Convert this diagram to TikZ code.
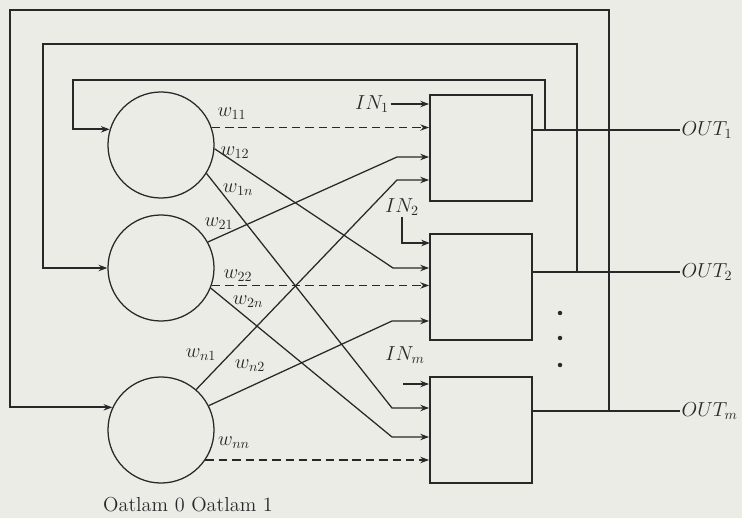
\documentclass[tikz,border=0pt]{standalone}
\usepackage{xcolor}
\usepackage{tikz}
\usetikzlibrary{arrows.meta,positioning,calc}
\definecolor{paper}{RGB}{236,236,231}
\definecolor{ink}{RGB}{40,40,40}

\begin{document}
\begin{tikzpicture}[
  x=0.025cm, y=-0.025cm,
  neuron/.style={draw=ink, circle, line width=0.9pt, minimum size=2.65cm, inner sep=0pt},
  cell/.style={draw=ink, line width=1.3pt, minimum width=2.55cm, minimum height=2.65cm, inner sep=0pt},
  lab/.style={font=\Large, text=ink, inner sep=1pt},
  wgt/.style={draw=ink, line width=0.9pt},
  arr/.style={-{Stealth[length=2.2mm, width=1.6mm]}},
  fb/.style={draw=ink, line width=1.2pt, -{Stealth[length=2.2mm, width=1.6mm]}},
  wdash/.style={wgt, dash pattern=on 6pt off 3.5pt}
]
  \fill[paper] (0,0) rectangle (742,518);
  \useasboundingbox (0,0) rectangle (742,518);

  % Neurons
  \node[neuron] (n1) at (161,145) {};
  \node[neuron] (n2) at (161,268) {};
  \node[neuron] (n3) at (161,430) {};

  % Output cells
  \node[cell] (b1) at (481,148) {};
  \node[cell] (b2) at (481,287) {};
  \node[cell] (b3) at (481,430) {};

  % Inputs
  \node[lab] (in1) at (372,104) {$IN_1$};
  \node[lab] (in2) at (402,207) {$IN_2$};
  \node[lab] (inm) at (405,355) {$IN_m$};
  \coordinate (p2) at (430,243);
  \coordinate (pm) at (403,384);
  \draw[wgt,arr] (in1.east) -- (in1.east -| b1.west);
  \draw[wgt,arr] (in2.south) |- (p2);
  \draw[wgt,arr] (pm) -- (pm -| b3.west);

  % Outputs
  \node[lab, anchor=west] (out1) at (680,130) {$OUT_1$};
  \node[lab, anchor=west] (out2) at (680,272) {$OUT_2$};
  \node[lab, anchor=west] (outm) at (680,411) {$OUT_m$};
  \draw[wgt, line width=1.2pt] (out1.west -| b1.east) -- (out1.west);
  \draw[wgt, line width=1.2pt] (out2.west -| b2.east) -- (out2.west);
  \draw[wgt, line width=1.2pt] (outm.west -| b3.east) -- (outm.west);

  % Feedback loops
  \coordinate (j1) at (545,130);
  \coordinate (j2) at (577,272);
  \coordinate (j3) at (609,411);
  \coordinate (c1) at (73,80);
  \coordinate (c2) at (43,44);
  \coordinate (c3) at (10,10);
  \draw[fb] (j1) |- (c1) |- (n1.163);
  \draw[fb] (j2) |- (c2) |- (n2.west);
  \draw[fb] (j3) |- (c3) |- (n3.155);

  % Bends of the weight lines
  \coordinate (k12) at (393,268);
  \coordinate (k1n) at (392,408);
  \coordinate (k21) at (397,157);
  \coordinate (k2n) at (392,437);
  \coordinate (kn1) at (397,180);
  \coordinate (kn2) at (392,321);

  % Weights
  \draw[wdash,arr] (n1.19) -- (n1.19 -| b1.west);
  \draw[wgt,arr] (n1.-4) -- (k12) -- (k12 -| b2.west);
  \draw[wgt,arr] (n1.-32) -- (k1n) -- (k1n -| b3.west);
  \draw[wgt,arr] (n2.29) -- (k21) -- (k21 -| b1.west);
  \draw[wdash,arr] (n2.-19) -- (n2.-19 -| b2.west);
  \draw[wgt,arr] (n2.-22) -- (k2n) -- (k2n -| b3.west);
  \draw[wgt,arr] (n3.49) -- (kn1) -- (kn1 -| b1.west);
  \draw[wgt,arr] (n3.27) -- (kn2) -- (kn2 -| b2.west);
  \draw[wdash,arr] (n3.-34) -- (n3.-34 -| b3.west);

  \node[lab] (l11) at (232,114) {$w_{11}$};
  \node[lab] (l12) at (235,153) {$w_{12}$};
  \node[lab] (l1n) at (238,190) {$w_{1n}$};
  \node[lab] (l21) at (219,224) {$w_{21}$};
  \node[lab] (l22) at (238,276) {$w_{22}$};
  \node[lab] (l2n) at (248,302) {$w_{2n}$};
  \node[lab] (ln1) at (201,355) {$w_{n1}$};
  \node[lab] (ln2) at (250,366) {$w_{n2}$};
  \node[lab] (lnn) at (234,443) {$w_{nn}$};

  % Dots
  \foreach \y in {313,338,365}
    \fill[ink] (560,\y) circle[radius=1.6pt];

  \node[lab] (cap) at (188,505) {Oatlam 0 Oatlam 1};
\end{tikzpicture}
\end{document}
